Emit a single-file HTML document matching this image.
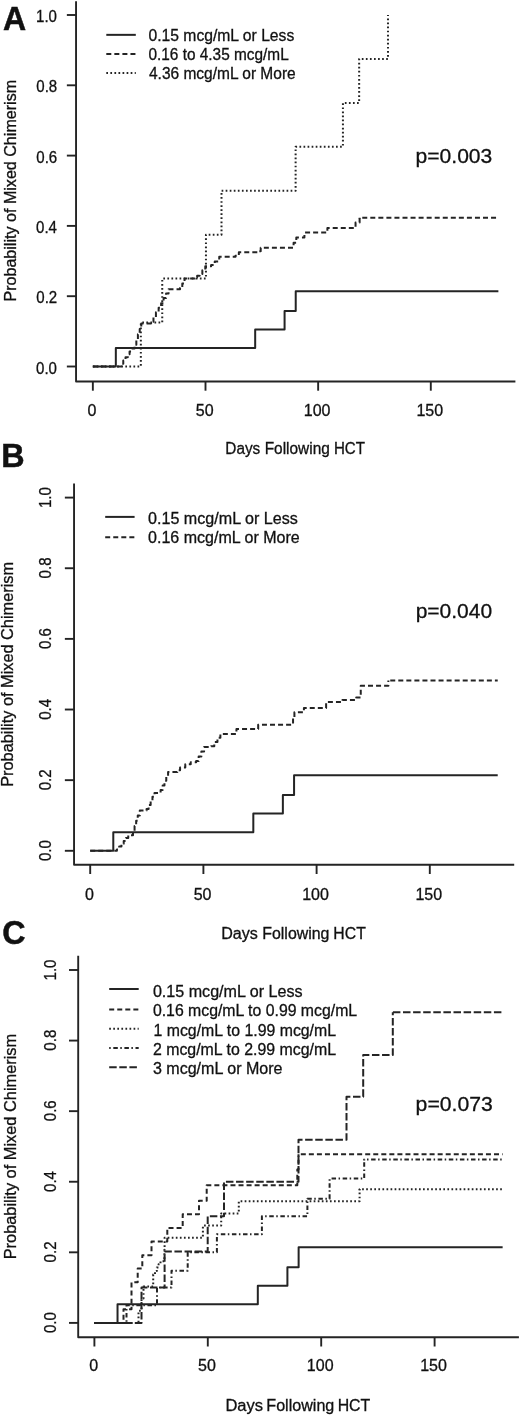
<!DOCTYPE html><html><head><meta charset="utf-8"><style>html,body{margin:0;padding:0;background:#fff;width:520px;height:1416px;overflow:hidden}svg{display:block;will-change:transform}text{font-family:"Liberation Sans",sans-serif;fill:#111;stroke:#111;stroke-width:0.3px}</style></head><body>
<svg width="520" height="1416" viewBox="0 0 520 1416">
<rect width="520" height="1416" fill="#fff"/>
<path d="M76.05 1.2V381.5H515.4" fill="none" stroke="#242424" stroke-width="1.9" stroke-linejoin="round"/>
<path d="M66.85 366.5H76.05" stroke="#242424" stroke-width="1.9"/>
<path d="M66.85 296.2H76.05" stroke="#242424" stroke-width="1.9"/>
<path d="M66.85 225.9H76.05" stroke="#242424" stroke-width="1.9"/>
<path d="M66.85 155.6H76.05" stroke="#242424" stroke-width="1.9"/>
<path d="M66.85 85.3H76.05" stroke="#242424" stroke-width="1.9"/>
<path d="M66.85 15H76.05" stroke="#242424" stroke-width="1.9"/>
<path d="M92.85 381.5V390.7" stroke="#242424" stroke-width="1.9"/>
<path d="M205.5 381.5V390.7" stroke="#242424" stroke-width="1.9"/>
<path d="M318.15 381.5V390.7" stroke="#242424" stroke-width="1.9"/>
<path d="M430.8 381.5V390.7" stroke="#242424" stroke-width="1.9"/>
<text x="3.07" y="29.65" font-size="33" font-weight="bold" style="stroke-width:0.5px" textLength="23.15" lengthAdjust="spacingAndGlyphs">A</text>
<text x="36.05" y="373.55" font-size="16" textLength="20.91" lengthAdjust="spacingAndGlyphs">0.0</text>
<text x="36.29" y="303.25" font-size="16" textLength="20.91" lengthAdjust="spacingAndGlyphs">0.2</text>
<text x="36.05" y="232.95" font-size="16" textLength="20.91" lengthAdjust="spacingAndGlyphs">0.4</text>
<text x="36.29" y="162.65" font-size="16" textLength="20.91" lengthAdjust="spacingAndGlyphs">0.6</text>
<text x="36.29" y="92.35" font-size="16" textLength="20.91" lengthAdjust="spacingAndGlyphs">0.8</text>
<text x="36.05" y="22.05" font-size="16" textLength="20.91" lengthAdjust="spacingAndGlyphs">1.0</text>
<text x="15.7" y="301.56" font-size="16" transform="rotate(-90 15.7 301.56)" textLength="221.68" lengthAdjust="spacingAndGlyphs">Probability of Mixed Chimerism</text>
<text x="87.6" y="415.65" font-size="16">0</text>
<text x="195.75" y="415.65" font-size="16">50</text>
<text x="303.77" y="415.65" font-size="16">100</text>
<text x="416.43" y="415.65" font-size="16">150</text>
<text x="225.3" y="454.45" font-size="16" textLength="34.97" lengthAdjust="spacingAndGlyphs">Days</text>
<text x="264.7" y="454.45" font-size="16" textLength="65.16" lengthAdjust="spacingAndGlyphs">Following</text>
<text x="333.92" y="454.45" font-size="16" textLength="31.05" lengthAdjust="spacingAndGlyphs">HCT</text>
<path d="M106.3 34.85H135.8" stroke="#242424" stroke-width="2.0"/>
<text x="148.47" y="41.1" font-size="16" textLength="145.79" lengthAdjust="spacingAndGlyphs">0.15 mcg/mL or Less</text>
<path d="M106.3 54.1H135.8" stroke="#242424" stroke-width="2.0" stroke-dasharray="5 3.05"/>
<text x="148.48" y="60" font-size="16" textLength="140.21" lengthAdjust="spacingAndGlyphs">0.16 to 4.35 mcg/mL</text>
<path d="M106.3 73.1H135.8" stroke="#242424" stroke-width="2.0" stroke-dasharray="1.7 2.36"/>
<text x="148.96" y="78.8" font-size="16" textLength="146.74" lengthAdjust="spacingAndGlyphs">4.36 mcg/mL or More</text>
<text x="415.55" y="162.75" font-size="21" textLength="76.76" lengthAdjust="spacingAndGlyphs">p=0.003</text>
<path d="M92.85 366.5H115.83V348H255.18V329.5H284.58V311H295.73V291.21H498.39" fill="none" stroke="#242424" stroke-width="2.0" stroke-linejoin="round"/>
<path d="M92.85 366.5H121.01V363.69H123.27V360.52H125.52V357.36H127.77V354.2H129.57V351.39H131.6V348.57H134.53V344.71H136.33V339.43H137.91V334.16H139.71V328.89H141.29V323.62H150.98V321.86H153.46V317.29H155.93V312.37H158.64V307.8H161.12V303.23H163.59V297.96H166.07V293.39H168.55V289.17H180.04V288.12H182.29V283.55H184.55V278.62H194.91V277.57H197.16V275.81H199.64V274.06H202.35V270.19H205.27V266.32H211.13V264.92H214.74V261.4H219.24V256.83H235.46V255.78H238.84V252.26H258.45V251.21H260.7V247.69H293.59V242.77H296.3V237.5H304.41V232.58H327.39V228.01H355.55V222.39H359.61V217.82" fill="none" stroke="#242424" stroke-width="2.0" stroke-linejoin="round" stroke-dasharray="5 3.05"/>
<path d="M359.61 218.82V217.82H498.39" fill="none" stroke="#242424" stroke-width="2.0" stroke-linejoin="round" stroke-dasharray="5 3.05" stroke-dashoffset="4.41"/>
<path d="M92.85 366.5H140.84V322.56H162.24V278.62H205.95V234.69H221.5V190.75H295.62V146.81H342.93V102.88H359.15V58.94H387.99V15" fill="none" stroke="#242424" stroke-width="2.0" stroke-linejoin="round" stroke-dasharray="1.7 2.36"/>
<path d="M74.05 483.4V864.8H514.2" fill="none" stroke="#242424" stroke-width="1.9" stroke-linejoin="round"/>
<path d="M64.85 850.8H74.05" stroke="#242424" stroke-width="1.9"/>
<path d="M64.85 780.16H74.05" stroke="#242424" stroke-width="1.9"/>
<path d="M64.85 709.52H74.05" stroke="#242424" stroke-width="1.9"/>
<path d="M64.85 638.88H74.05" stroke="#242424" stroke-width="1.9"/>
<path d="M64.85 568.24H74.05" stroke="#242424" stroke-width="1.9"/>
<path d="M64.85 497.6H74.05" stroke="#242424" stroke-width="1.9"/>
<path d="M90.2 864.8V874" stroke="#242424" stroke-width="1.9"/>
<path d="M203.4 864.8V874" stroke="#242424" stroke-width="1.9"/>
<path d="M316.6 864.8V874" stroke="#242424" stroke-width="1.9"/>
<path d="M429.8 864.8V874" stroke="#242424" stroke-width="1.9"/>
<text x="1.29" y="466.95" font-size="33" font-weight="bold" style="stroke-width:0.5px" textLength="23.37" lengthAdjust="spacingAndGlyphs">B</text>
<text x="50.6" y="861.08" font-size="16" transform="rotate(-90 50.6 861.08)" textLength="20.91" lengthAdjust="spacingAndGlyphs">0.0</text>
<text x="50.6" y="790.32" font-size="16" transform="rotate(-90 50.6 790.32)" textLength="20.91" lengthAdjust="spacingAndGlyphs">0.2</text>
<text x="50.6" y="719.8" font-size="16" transform="rotate(-90 50.6 719.8)" textLength="20.91" lengthAdjust="spacingAndGlyphs">0.4</text>
<text x="50.6" y="649.04" font-size="16" transform="rotate(-90 50.6 649.04)" textLength="20.91" lengthAdjust="spacingAndGlyphs">0.6</text>
<text x="50.6" y="578.4" font-size="16" transform="rotate(-90 50.6 578.4)" textLength="20.91" lengthAdjust="spacingAndGlyphs">0.8</text>
<text x="50.6" y="508.11" font-size="16" transform="rotate(-90 50.6 508.11)" textLength="20.91" lengthAdjust="spacingAndGlyphs">1.0</text>
<text x="12.6" y="786.77" font-size="16" transform="rotate(-90 12.6 786.77)" textLength="224.81" lengthAdjust="spacingAndGlyphs">Probability of Mixed Chimerism</text>
<text x="84.95" y="899.55" font-size="16">0</text>
<text x="193.65" y="899.55" font-size="16">50</text>
<text x="302.23" y="899.55" font-size="16">100</text>
<text x="415.43" y="899.55" font-size="16">150</text>
<text x="221.24" y="938.95" font-size="16" textLength="36.66" lengthAdjust="spacingAndGlyphs">Days</text>
<text x="262.26" y="938.95" font-size="16" textLength="67.23" lengthAdjust="spacingAndGlyphs">Following</text>
<text x="333.37" y="938.95" font-size="16" textLength="32.42" lengthAdjust="spacingAndGlyphs">HCT</text>
<path d="M105.2 516.9H134.6" stroke="#242424" stroke-width="2.0"/>
<text x="148.05" y="523.8" font-size="16" textLength="149.72" lengthAdjust="spacingAndGlyphs">0.15 mcg/mL or Less</text>
<path d="M105.2 537.3H134.6" stroke="#242424" stroke-width="2.0" stroke-dasharray="5 3.05"/>
<text x="148.05" y="543" font-size="16" textLength="151.67" lengthAdjust="spacingAndGlyphs">0.16 mcg/mL or More</text>
<text x="415.65" y="618.05" font-size="21" textLength="76.5" lengthAdjust="spacingAndGlyphs">p=0.040</text>
<path d="M90.2 850.8H113.29V832.21H253.32V813.62H282.87V795.03H294.07V775.14H497.72" fill="none" stroke="#242424" stroke-width="2.0" stroke-linejoin="round"/>
<path d="M90.2 850.8H116.92V849.39H119.18V846.56H121.44V843.74H123.71V840.91H125.97V838.08H128.24V835.26H132.99V831.73H134.57V826.08H136.16V820.78H137.74V815.48H139.78V810.54H146.57V809.12H148.61V804.88H150.65V801H152.46V796.76H154.5V792.88H160.61V790.05H162.65V785.46H164.46V780.87H166.27V776.63H168.08V772.04H177.36V770.27H180.08V767.44H185.29V764.27H190.72V762.15H196.16V761.09H198.65V756.5H201.36V751.55H204.08V746.96H211.1V746.25H214.27V742.01H217.44V737.78H220.38V733.89H236.45V728.95H258.19V724.71H293.05V718.35H294.41V712.35H303.92V708.11H326.11V702.1H342.41V699.98H356.22V697.51H360.75V685.86H388.37V680.56" fill="none" stroke="#242424" stroke-width="2.0" stroke-linejoin="round" stroke-dasharray="5 3.05"/>
<path d="M388.37 681.56V680.56H497.72" fill="none" stroke="#242424" stroke-width="2.0" stroke-linejoin="round" stroke-dasharray="5 3.05" stroke-dashoffset="5.17"/>
<path d="M78.2 955.8V1337.3H518.9" fill="none" stroke="#242424" stroke-width="1.9" stroke-linejoin="round"/>
<path d="M69 1322.9H78.2" stroke="#242424" stroke-width="1.9"/>
<path d="M69 1252.32H78.2" stroke="#242424" stroke-width="1.9"/>
<path d="M69 1181.74H78.2" stroke="#242424" stroke-width="1.9"/>
<path d="M69 1111.16H78.2" stroke="#242424" stroke-width="1.9"/>
<path d="M69 1040.58H78.2" stroke="#242424" stroke-width="1.9"/>
<path d="M69 970H78.2" stroke="#242424" stroke-width="1.9"/>
<path d="M94.4 1337.3V1346.5" stroke="#242424" stroke-width="1.9"/>
<path d="M207.8 1337.3V1346.5" stroke="#242424" stroke-width="1.9"/>
<path d="M321.2 1337.3V1346.5" stroke="#242424" stroke-width="1.9"/>
<path d="M434.6 1337.3V1346.5" stroke="#242424" stroke-width="1.9"/>
<text x="2.28" y="943.8" font-size="33" font-weight="bold" style="stroke-width:0.5px" textLength="23.29" lengthAdjust="spacingAndGlyphs">C</text>
<text x="55.7" y="1333.08" font-size="16" transform="rotate(-90 55.7 1333.08)" textLength="20.91" lengthAdjust="spacingAndGlyphs">0.0</text>
<text x="55.7" y="1262.38" font-size="16" transform="rotate(-90 55.7 1262.38)" textLength="20.91" lengthAdjust="spacingAndGlyphs">0.2</text>
<text x="55.7" y="1191.91" font-size="16" transform="rotate(-90 55.7 1191.91)" textLength="20.91" lengthAdjust="spacingAndGlyphs">0.4</text>
<text x="55.7" y="1121.22" font-size="16" transform="rotate(-90 55.7 1121.22)" textLength="20.91" lengthAdjust="spacingAndGlyphs">0.6</text>
<text x="55.7" y="1050.64" font-size="16" transform="rotate(-90 55.7 1050.64)" textLength="20.91" lengthAdjust="spacingAndGlyphs">0.8</text>
<text x="55.7" y="980.41" font-size="16" transform="rotate(-90 55.7 980.41)" textLength="20.91" lengthAdjust="spacingAndGlyphs">1.0</text>
<text x="16.2" y="1259.28" font-size="16" transform="rotate(-90 16.2 1259.28)" textLength="225.42" lengthAdjust="spacingAndGlyphs">Probability of Mixed Chimerism</text>
<text x="89.15" y="1371.45" font-size="16">0</text>
<text x="198.05" y="1371.45" font-size="16">50</text>
<text x="306.83" y="1371.45" font-size="16">100</text>
<text x="420.23" y="1371.45" font-size="16">150</text>
<text x="225.41" y="1410.85" font-size="16" textLength="37.62" lengthAdjust="spacingAndGlyphs">Days</text>
<text x="266.34" y="1410.85" font-size="16" textLength="67.96" lengthAdjust="spacingAndGlyphs">Following</text>
<text x="337.66" y="1410.85" font-size="16" textLength="32.63" lengthAdjust="spacingAndGlyphs">HCT</text>
<path d="M109.2 989H138.7" stroke="#242424" stroke-width="2.0"/>
<text x="152.9" y="996.65" font-size="16" textLength="149.67" lengthAdjust="spacingAndGlyphs">0.15 mcg/mL or Less</text>
<path d="M109.2 1009.4H138.7" stroke="#242424" stroke-width="2.0" stroke-dasharray="5 3.05"/>
<text x="152.91" y="1016.3" font-size="16" textLength="204.19" lengthAdjust="spacingAndGlyphs">0.16 mcg/mL to 0.99 mcg/mL</text>
<path d="M109.2 1028.7H138.7" stroke="#242424" stroke-width="2.0" stroke-dasharray="1.7 2.36"/>
<text x="153.56" y="1035.65" font-size="16" textLength="182.46" lengthAdjust="spacingAndGlyphs">1 mcg/mL to 1.99 mcg/mL</text>
<path d="M109.2 1048H138.7" stroke="#242424" stroke-width="2.0" stroke-dasharray="1.5 2.6 4.5 2.5"/>
<text x="152.91" y="1055" font-size="16" textLength="183.12" lengthAdjust="spacingAndGlyphs">2 mcg/mL to 2.99 mcg/mL</text>
<path d="M109.2 1067.3H138.7" stroke="#242424" stroke-width="2.0" stroke-dasharray="7.5 2.6"/>
<text x="152.9" y="1074.3" font-size="16" textLength="129.62" lengthAdjust="spacingAndGlyphs">3 mcg/mL or More</text>
<text x="415.64" y="1111.05" font-size="21" textLength="77.17" lengthAdjust="spacingAndGlyphs">p=0.073</text>
<path d="M94.4 1322.9H117.53V1304.33H257.81V1285.75H287.41V1267.18H298.63V1247.31H502.64" fill="none" stroke="#242424" stroke-width="2.0" stroke-linejoin="round"/>
<path d="M94.4 1322.9H123.5V1309.31H131.5V1282.32H137.7V1268.55H142.3V1255.14H151.5V1241.38H167.3V1227.97H182.7V1214.21H199V1200.8H206.7V1185.27H297.3V1169.39H298.5V1154.21" fill="none" stroke="#242424" stroke-width="2.0" stroke-linejoin="round" stroke-dasharray="5 3.05"/>
<path d="M298.5 1155.21V1154.21H502.64" fill="none" stroke="#242424" stroke-width="2.0" stroke-linejoin="round" stroke-dasharray="5 3.05" stroke-dashoffset="4.75"/>
<path d="M94.4 1322.9H138.5V1310.72H141.5V1298.55H143.5V1286.55H153.2V1274.55H155V1271.02H156.8V1267.49H158.6V1264.32H160.5V1261.14H164.4V1249.85H164.6V1237.85H202.9V1225.5H221.2V1213.5H238.8V1201.15H359.6V1189.15" fill="none" stroke="#242424" stroke-width="2.0" stroke-linejoin="round" stroke-dasharray="1.7 2.36"/>
<path d="M359.6 1190.15V1189.15H502.64" fill="none" stroke="#242424" stroke-width="2.0" stroke-linejoin="round" stroke-dasharray="1.7 2.36" stroke-dashoffset="0.53"/>
<path d="M94.4 1322.9H126.5V1305.26H157V1287.61H171.5V1270.67H187.7V1252.32H216.9V1234.32H261.9V1216.15H307.4V1198.68H329.6V1178.56H364.2V1159.51" fill="none" stroke="#242424" stroke-width="2.0" stroke-linejoin="round" stroke-dasharray="1.5 2.6 4.5 2.5"/>
<path d="M364.2 1160.51V1159.51H502.64" fill="none" stroke="#242424" stroke-width="2.0" stroke-linejoin="round" stroke-dasharray="1.5 2.6 4.5 2.5" stroke-dashoffset="7.30"/>
<path d="M94.4 1322.9H141.5V1287.61H164.6V1251.44H207.7V1216.15H224V1181.74H298.5V1139.74H346.5V1096.69H363.2V1055.05H392.8V1012.35" fill="none" stroke="#242424" stroke-width="2.0" stroke-linejoin="round" stroke-dasharray="7.5 2.6"/>
<path d="M392.8 1013.35V1012.35H502.64" fill="none" stroke="#242424" stroke-width="2.0" stroke-linejoin="round" stroke-dasharray="7.5 2.6" stroke-dashoffset="9.00"/>
</svg></body></html>
